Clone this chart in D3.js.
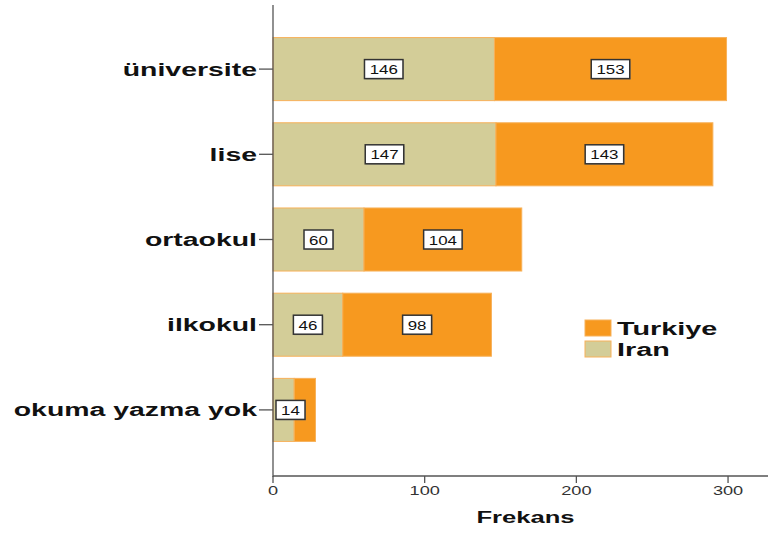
<!DOCTYPE html>
<html>
<head>
<meta charset="utf-8">
<script src="https://cdn.jsdelivr.net/npm/d3@7"></script>
<style>
  html, body { margin: 0; padding: 0; background: #fff; }
  svg { display: block; font-family: "Liberation Sans", Arial, sans-serif; }
</style>
</head>
<body>
<svg id="chart" width="768" height="534"></svg>
<script>
// Education level counts by country (stacked: Iran first, then Turkiye)
const categories = ["üniversite", "lise", "ortaokul", "ilkokul", "okuma yazma yok"];
const iranValues = [146, 147, 60, 46, 14];
const turkiyeValues = [153, 143, 104, 98, 14];
const seriesNames = ["Iran", "Turkiye"];
const xTicks = [0, 100, 200, 300];
// the last category shows a single value box
const showTurkiyeLabel = [true, true, true, true, false];

const colors = { Iran: "#d3cd98", Turkiye: "#f7991f" };
const barStroke = "#f7b15a";
const stretch = 1.6; // wide lettering used throughout

const svg = d3.select("#chart");

const x = d3.scaleLinear().domain([0, 327]).range([273, 769]);
const y = d3.scaleBand().domain(categories).range([26.5, 452.5])
  .paddingInner(0.26).paddingOuter(0.13);

const rows = categories.map((c, i) => ({ cat: c, Iran: iranValues[i], Turkiye: turkiyeValues[i] }));
const stacked = d3.stack().keys(seriesNames)(rows);

// helper: horizontally stretched text
function wideText(g, px, py, str, opts) {
  const t = g.append("text")
    .attr("transform", `translate(${px},${py}) scale(${opts.sx || stretch},1)`)
    .attr("text-anchor", opts.anchor || "start")
    .attr("font-size", opts.size)
    .attr("font-weight", opts.weight || "normal")
    .attr("fill", opts.fill || "#111")
    .text(str);
  return t;
}

// bars
stacked.forEach(layer => {
  svg.append("g").selectAll("rect").data(layer).join("rect")
    .attr("x", d => x(d[0]))
    .attr("y", d => y(d.data.cat))
    .attr("width", d => x(d[1]) - x(d[0]))
    .attr("height", y.bandwidth())
    .attr("fill", colors[layer.key])
    .attr("stroke", barStroke)
    .attr("stroke-width", 1);
});

// axes
const axisColor = "#555";
const yAxisG = svg.append("g");
yAxisG.append("line").attr("x1", x(0)).attr("x2", x(0)).attr("y1", 5).attr("y2", 477)
  .attr("stroke", axisColor).attr("stroke-width", 1.3);
categories.forEach(c => {
  const cy = y(c) + y.bandwidth() / 2;
  yAxisG.append("line").attr("x1", x(0) - 14).attr("x2", x(0)).attr("y1", cy).attr("y2", cy)
    .attr("stroke", axisColor).attr("stroke-width", 1.3);
  wideText(yAxisG, x(0) - 16, cy + 6.5, c, { anchor: "end", size: 18, weight: "bold", sx: 1.58 });
});

const xAxisG = svg.append("g");
xAxisG.append("line").attr("x1", x(0)).attr("x2", 768).attr("y1", 476).attr("y2", 476)
  .attr("stroke", axisColor).attr("stroke-width", 1.3);
xTicks.forEach(v => {
  xAxisG.append("line").attr("x1", x(v)).attr("x2", x(v)).attr("y1", 476).attr("y2", 483)
    .attr("stroke", axisColor).attr("stroke-width", 1.3);
  wideText(xAxisG, x(v), 495, String(v), { anchor: "middle", size: 13, sx: 1.4, fill: "#333" });
});
wideText(svg, (x(0) + 768) / 2 + 5, 523, "Frekans", { anchor: "middle", size: 16, weight: "bold" });

// value boxes
function valueBox(cx, cy, val) {
  const g = svg.append("g");
  const str = String(val);
  const w = str.length * 9.5 + 10;
  const h = 19;
  g.append("rect").attr("x", cx - w / 2 + 1).attr("y", cy - h / 2 + 1).attr("width", w).attr("height", h)
    .attr("fill", "#888").attr("opacity", 0.5);
  g.append("rect").attr("x", cx - w / 2).attr("y", cy - h / 2).attr("width", w).attr("height", h)
    .attr("fill", "#fff").attr("stroke", "#333").attr("stroke-width", 1.5);
  wideText(g, cx, cy + 5, str, { anchor: "middle", size: 13, sx: 1.3, fill: "#111" });
  return w;
}
stacked.forEach(layer => {
  layer.forEach((d, i) => {
    if (layer.key === "Turkiye" && !showTurkiyeLabel[i]) return;
    const val = d[1] - d[0];
    const w = String(val).length * 9.5 + 10;
    let cx = (x(d[0]) + x(d[1])) / 2;
    cx = Math.max(cx, x(d[0]) + w / 2 + 3);
    valueBox(cx, y(d.data.cat) + y.bandwidth() / 2, val);
  });
});

// legend (Turkiye on top)
const legend = svg.append("g");
["Turkiye", "Iran"].forEach((k, i) => {
  const ly = 320 + i * 21;
  legend.append("rect").attr("x", 585).attr("y", ly).attr("width", 26).attr("height", 16)
    .attr("fill", colors[k]).attr("stroke", barStroke).attr("stroke-width", 1);
  wideText(legend, 617, ly + 15, k, { size: 18, weight: "bold", sx: 1.6 });
});
</script>
</body>
</html>
